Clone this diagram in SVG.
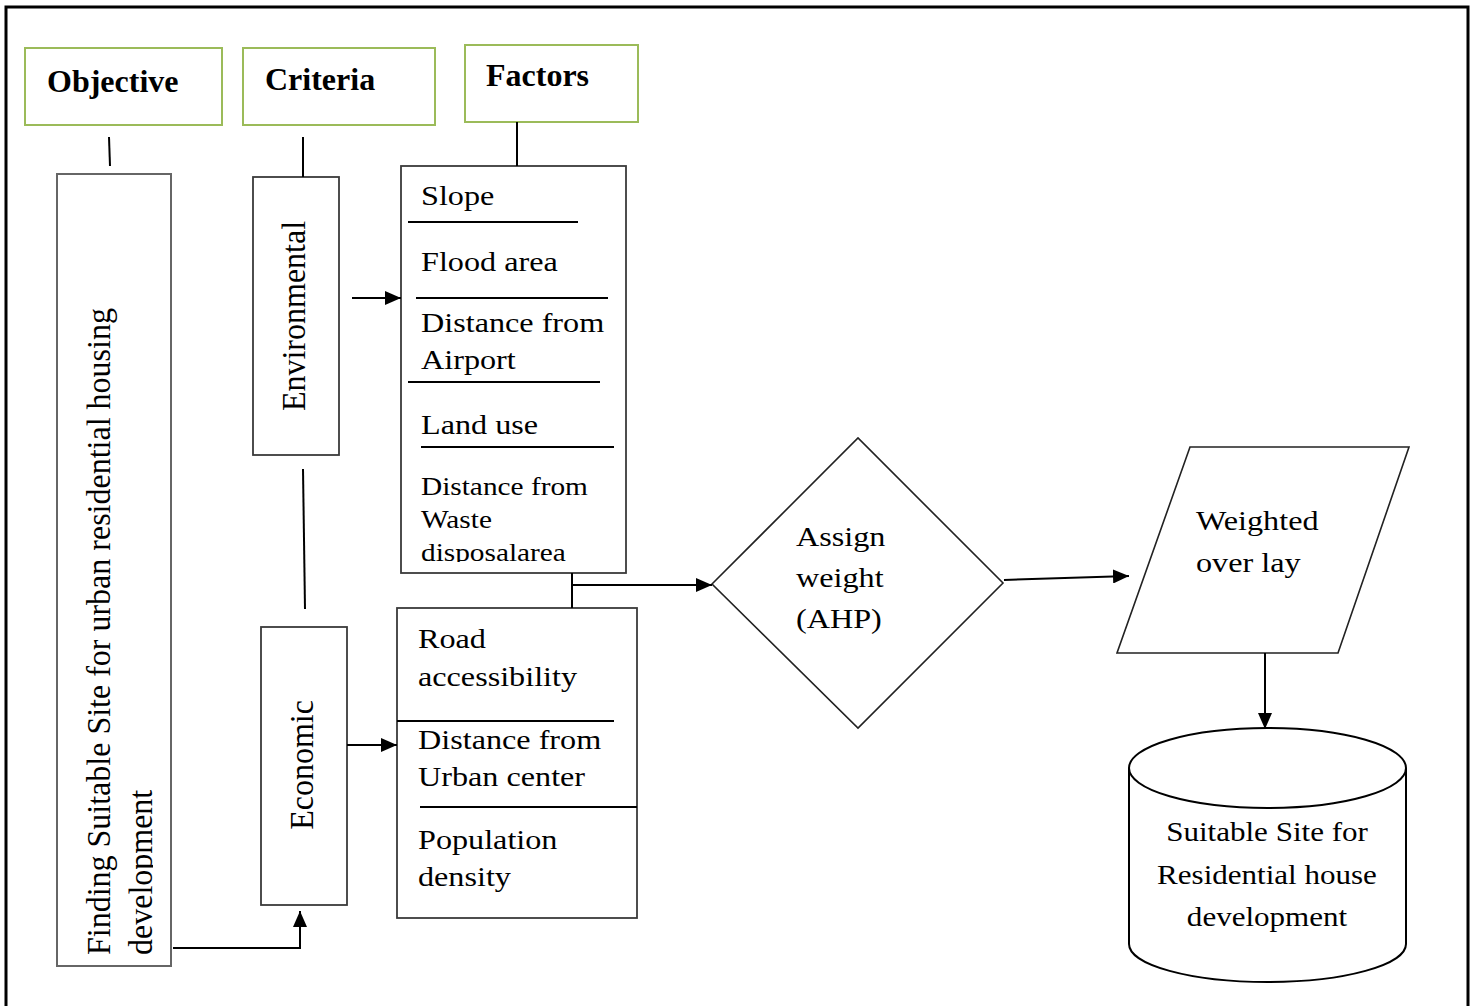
<svg xmlns="http://www.w3.org/2000/svg" width="1475" height="1006" viewBox="0 0 1475 1006">
<style>
.hdr{fill:#fff;stroke:#9bbb59;stroke-width:2}
.box{fill:#fff;stroke:#3a3a3a;stroke-width:1.8}
.sep{stroke:#000;stroke-width:2}
.ln{fill:none;stroke:#000;stroke-width:2}
.ht{font-family:"Liberation Serif","Times New Roman",serif;font-weight:bold;font-size:32px;fill:#000}
.t{font-family:"Liberation Serif","Times New Roman",serif;font-size:28px;fill:#000}
.ts{font-family:"Liberation Serif","Times New Roman",serif;font-size:25.5px;fill:#000}
.tc{font-family:"Liberation Serif","Times New Roman",serif;font-size:27px;fill:#000;text-anchor:middle}
.tr{font-family:"Liberation Serif","Times New Roman",serif;font-size:32px;fill:#000}
</style>
<defs>
<marker id="arr" markerUnits="userSpaceOnUse" markerWidth="16" markerHeight="14" viewBox="0 0 16 14" refX="16" refY="7" orient="auto">
<path d="M0,0 L16,7 L0,14 z" fill="#000"/>
</marker>
<clipPath id="clipF1"><rect x="401" y="166" width="226" height="396"/></clipPath>
<clipPath id="clipObj"><rect x="57" y="174" width="96" height="792"/></clipPath>
</defs>
<rect width="1475" height="1006" fill="#fff"/>
<path d="M6,1006 V7 H1468 V1006" fill="none" stroke="#000" stroke-width="3"/>

<g id="hdr-objective">
<rect class="hdr" x="25" y="48" width="197" height="77"/>
<text class="ht" x="47" y="92">Objective</text>
</g>
<g id="hdr-criteria">
<rect class="hdr" x="243" y="48" width="192" height="77"/>
<text class="ht" x="265" y="90">Criteria</text>
</g>
<g id="hdr-factors">
<rect class="hdr" x="465" y="45" width="173" height="77"/>
<text class="ht" x="486" y="86">Factors</text>
</g>

<g id="objective">
<rect x="57" y="174" width="114" height="792" fill="#fff" stroke="#666" stroke-width="2"/>
<g clip-path="url(#clipObj)">
<text class="tr" transform="translate(110,955) scale(1.08,1) rotate(-90)">Finding Suitable Site for urban residential housing</text>
<text class="tr" transform="translate(152,955) scale(1.08,1) rotate(-90)">development</text>
</g>
</g>

<g id="environmental">
<rect class="box" x="253" y="177" width="86" height="278"/>
<text class="tr" text-anchor="middle" transform="translate(305,316) scale(1.08,1) rotate(-90)">Environmental</text>
</g>

<g id="economic">
<rect class="box" x="261" y="627" width="86" height="278"/>
<text class="tr" text-anchor="middle" transform="translate(313,765) scale(1.08,1) rotate(-90)">Economic</text>
</g>

<g id="env-factors">
<rect class="box" x="401" y="166" width="225" height="407"/>
<line class="sep" x1="408" y1="222" x2="578" y2="222"/>
<line class="sep" x1="416" y1="298" x2="608" y2="298"/>
<line class="sep" x1="408" y1="382" x2="600" y2="382"/>
<line class="sep" x1="421" y1="447" x2="614" y2="447"/>
<text class="t" transform="translate(421,205) scale(1.15,1)">Slope</text>
<text class="t" transform="translate(421,271) scale(1.15,1)">Flood area</text>
<text class="t" transform="translate(421,332) scale(1.15,1)"><tspan x="0" y="0">Distance from</tspan><tspan x="0" y="37">Airport</tspan></text>
<text class="t" transform="translate(421,434) scale(1.15,1)">Land use</text>
<g clip-path="url(#clipF1)">
<text class="ts" transform="translate(421,495) scale(1.15,1)"><tspan x="0" y="0">Distance from</tspan><tspan x="0" y="33">Waste</tspan><tspan x="0" y="66">disposalarea</tspan></text>
</g>
</g>

<g id="econ-factors">
<rect class="box" x="397" y="608" width="240" height="310"/>
<line class="sep" x1="397" y1="721" x2="614" y2="721"/>
<line class="sep" x1="420" y1="807" x2="637" y2="807"/>
<text class="t" transform="translate(418,648) scale(1.15,1)"><tspan x="0" y="0">Road</tspan><tspan x="0" y="38">accessibility</tspan></text>
<text class="t" transform="translate(418,749) scale(1.15,1)"><tspan x="0" y="0">Distance from</tspan><tspan x="0" y="37">Urban center</tspan></text>
<text class="t" transform="translate(418,849) scale(1.15,1)"><tspan x="0" y="0">Population</tspan><tspan x="0" y="37">density</tspan></text>
</g>

<g id="assign-weight">
<path d="M712,584 L858,438 L1003,583 L858,728 Z" fill="#fff" stroke="#222" stroke-width="1.6"/>
<text class="t" transform="translate(796,546) scale(1.15,1)"><tspan x="0" y="0">Assign</tspan><tspan x="0" y="41">weight</tspan><tspan x="0" y="82">(AHP)</tspan></text>
</g>

<g id="weighted-overlay">
<path d="M1190,447 L1409,447 L1338,653 L1117,653 Z" fill="#fff" stroke="#222" stroke-width="1.6"/>
<text class="t" transform="translate(1196,530) scale(1.15,1)"><tspan x="0" y="0">Weighted</tspan><tspan x="0" y="42">over lay</tspan></text>
</g>

<g id="suitable-site">
<path d="M1129,768 V944 A138.5,38 0 0 0 1406,944 V768" fill="#fff" stroke="#000" stroke-width="2"/>
<ellipse cx="1267.5" cy="768" rx="138.5" ry="40" fill="#fff" stroke="#000" stroke-width="2"/>
<text class="tc" transform="translate(1267,841) scale(1.15,1)"><tspan x="0" y="0">Suitable Site for</tspan><tspan x="0" y="43">Residential house</tspan><tspan x="0" y="85">development</tspan></text>
</g>

<g id="connectors">
<line class="ln" x1="109" y1="137" x2="110" y2="166"/>
<line class="ln" x1="303" y1="137" x2="303" y2="177"/>
<line class="ln" x1="517" y1="122" x2="517" y2="166"/>
<line class="ln" x1="303" y1="469" x2="305" y2="609"/>
<line class="ln" x1="352" y1="298" x2="401" y2="298" marker-end="url(#arr)"/>
<line class="ln" x1="347" y1="745" x2="397" y2="745" marker-end="url(#arr)"/>
<polyline class="ln" points="173,948 300,948 300,911" marker-end="url(#arr)"/>
<line class="ln" x1="572" y1="573" x2="572" y2="608"/>
<line class="ln" x1="572" y1="585" x2="712" y2="585" marker-end="url(#arr)"/>
<line class="ln" x1="1004" y1="580" x2="1129" y2="576" marker-end="url(#arr)"/>
<line class="ln" x1="1265" y1="653" x2="1265" y2="729" marker-end="url(#arr)"/>
</g>
</svg>
